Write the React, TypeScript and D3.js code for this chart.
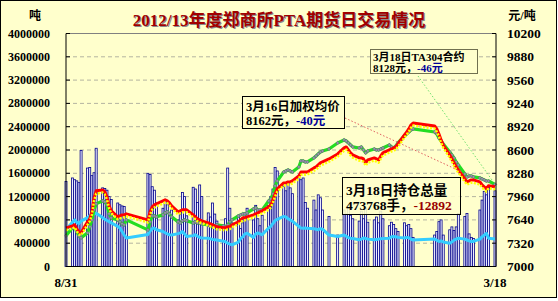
import React from 'react';
import * as d3 from 'd3';

const dates = [
  '2012-08-31',
  '2012-09-03','2012-09-04','2012-09-05','2012-09-06','2012-09-07',
  '2012-09-10','2012-09-11','2012-09-12','2012-09-13','2012-09-14',
  '2012-09-17','2012-09-18','2012-09-19','2012-09-20','2012-09-21',
  '2012-09-24','2012-09-25','2012-09-26','2012-09-27','2012-09-28',
  '2012-10-08','2012-10-09','2012-10-10','2012-10-11','2012-10-12',
  '2012-10-15','2012-10-16','2012-10-17','2012-10-18','2012-10-19',
  '2012-10-22','2012-10-23','2012-10-24','2012-10-25','2012-10-26',
  '2012-10-29','2012-10-30','2012-10-31','2012-11-01','2012-11-02',
  '2012-11-05','2012-11-06','2012-11-07','2012-11-08','2012-11-09',
  '2012-11-12','2012-11-13','2012-11-14','2012-11-15','2012-11-16',
  '2012-11-19','2012-11-20','2012-11-21','2012-11-22','2012-11-23',
  '2012-11-26','2012-11-27','2012-11-28','2012-11-29','2012-11-30',
  '2012-12-03','2012-12-04','2012-12-05','2012-12-06','2012-12-07',
  '2012-12-10','2012-12-11','2012-12-12','2012-12-13','2012-12-14',
  '2012-12-17','2012-12-18','2012-12-19','2012-12-20','2012-12-21',
  '2012-12-24','2012-12-25','2012-12-26','2012-12-27','2012-12-28',
  '2012-12-31','2013-01-04',
  '2013-01-07','2013-01-08','2013-01-09','2013-01-10','2013-01-11',
  '2013-01-14','2013-01-15','2013-01-16','2013-01-17','2013-01-18',
  '2013-01-21','2013-01-22','2013-01-23','2013-01-24','2013-01-25',
  '2013-01-28','2013-01-29','2013-01-30','2013-01-31','2013-02-01',
  '2013-02-04','2013-02-05','2013-02-06','2013-02-07','2013-02-08',
  '2013-02-18','2013-02-19','2013-02-20','2013-02-21','2013-02-22',
  '2013-02-25','2013-02-26','2013-02-27','2013-02-28','2013-03-01',
  '2013-03-04','2013-03-05','2013-03-06','2013-03-07','2013-03-08',
  '2013-03-11','2013-03-12','2013-03-13','2013-03-14','2013-03-15',
  '2013-03-18',
];

// daily volume (lots)
const volume = [
  1460000,
  1520000,1490000,1470000,1440000,1990000,
  1690000,1700000,1560000,1610000,2030000,
  1350000,1340000,1310000,1200000,1150000,
  1090000,1060000,1040000,1030000,780000,
  1600000,1580000,1370000,1310000,1090000,
  1000000,1150000,1060000,930000,970000,
  800000,890000,1270000,1200000,870000,
  1360000,1330000,1100000,1400000,1200000,
  920000,850000,1090000,900000,780000,
  700000,820000,1690000,1000000,750000,
  880000,650000,750000,920000,1000000,
  800000,1050000,820000,700000,880000,
  1050000,1200000,1330000,1700000,1640000,
  1380000,1300000,1420000,1350000,1250000,
  1540000,1490000,1520000,1100000,1000000,
  1140000,970000,1230000,1180000,970000,
  860000,540000,
  970000,900000,1000000,880000,820000,
  780000,950000,820000,1000000,760000,
  800000,850000,750000,950000,820000,
  700000,760000,720000,650000,600000,
  750000,700000,720000,650000,500000,
  540000,600000,770000,800000,540000,
  630000,680000,620000,680000,910000,
  860000,910000,560000,500000,480000,
  970000,1140000,1290000,1230000,1370000,
  1300000,
];

// open interest (lots)
const openInterest = [
  630000,
  760000,800000,760000,740000,780000,
  840000,870000,890000,900000,915000,
  840000,810000,790000,770000,750000,
  690000,660000,600000,540000,490000,
  550000,610000,650000,660000,630000,
  600000,580000,560000,545000,540000,
  565000,575000,600000,560000,515000,
  530000,545000,520000,500000,490000,
  485000,475000,465000,460000,455000,
  435000,425000,400000,385000,372000,
  420000,480000,510000,560000,570000,
  500000,560000,575000,560000,545000,
  660000,690000,740000,790000,810000,
  860000,850000,820000,800000,780000,
  690000,660000,655000,660000,655000,
  650000,640000,630000,650000,640000,
  540000,515000,
  540000,520000,495000,485000,480000,
  460000,470000,490000,480000,470000,
  460000,465000,470000,475000,480000,
  485000,510000,515000,510000,500000,
  490000,500000,495000,470000,455000,
  470000,450000,430000,440000,420000,
  400000,420000,455000,470000,485000,
  470000,455000,440000,430000,430000,
  470000,510000,540000,570000,486660,
  473768,
];

// TA304 contract price (yuan/ton)
const priceGreen = [
  7421,
  7531,7558,7476,7421,7394,
  7462,7545,7640,7778,7860,
  7901,7887,7846,7723,7668,
  7640,7613,7586,7572,7640,
  7503,7613,7695,7695,7682,
  7709,7736,7750,7723,7682,
  7613,7599,7627,7640,7627,
  7599,7613,7599,7599,7586,
  7572,7558,7545,7558,7572,
  7558,7545,7572,7613,7640,
  7695,7709,7723,7723,7736,
  7792,7805,7778,7778,7778,
  7901,7928,7997,8107,8175,
  8299,8312,8326,8312,8299,
  8367,8450,8450,8436,8436,
  8491,8518,8546,8573,8587,
  8614,8697,
  8738,8724,8697,8669,8642,
  8628,8642,8601,8560,8587,
  8614,8601,8601,8614,8628,
  8669,8642,8628,8655,8697,
  8793,8820,8847,8875,8889,
  8847,8820,8765,8724,8683,
  8573,8532,8491,8436,8395,
  8271,8230,8244,8244,8230,
  8217,8203,8189,8175,8174,
  8128,
];

// weighted average price (yuan/ton)
const priceRed = [
  7531,
  7558,7572,7517,7476,7462,
  7613,7654,7750,7942,8039,
  8052,8025,7956,7833,7764,
  7682,7695,7709,7709,7723,
  7640,7750,7819,7846,7860,
  7901,7915,7901,7874,7833,
  7750,7764,7778,7778,7778,
  7709,7682,7654,7640,7627,
  7599,7586,7572,7558,7545,
  7531,7531,7545,7545,7572,
  7613,7640,7668,7668,7682,
  7709,7723,7736,7750,7764,
  7819,7846,7915,7997,8066,
  8148,8148,8162,8162,8175,
  8244,8299,8299,8299,8299,
  8354,8367,8395,8422,8436,
  8477,8546,
  8628,8642,8601,8560,8532,
  8491,8491,8477,8422,8463,
  8491,8477,8463,8518,8560,
  8601,8614,8628,8642,8683,
  8806,8847,8889,8943,8971,
  8930,8889,8820,8738,8669,
  8532,8477,8422,8367,8326,
  8203,8162,8175,8189,8189,
  8162,8120,8093,8066,8110,
  8095,
];

// settlement price (yuan/ton)
const priceYellow = [
  7500,
  7520,7540,7485,7440,7430,
  7575,7620,7710,7900,8000,
  8015,7990,7920,7800,7730,
  7650,7660,7670,7675,7690,
  7605,7715,7780,7810,7825,
  7865,7880,7870,7840,7800,
  7715,7730,7745,7740,7745,
  7675,7650,7620,7605,7595,
  7565,7550,7540,7525,7510,
  7500,7495,7510,7515,7540,
  7580,7605,7630,7635,7645,
  7675,7690,7700,7715,7730,
  7780,7810,7880,7960,8030,
  8110,8115,8125,8130,8140,
  8205,8260,8265,8260,8265,
  8315,8330,8360,8385,8400,
  8440,8510,
  8590,8605,8565,8525,8495,
  8455,8450,8440,8385,8425,
  8455,8440,8425,8480,8525,
  8565,8580,8595,8605,8645,
  8770,8810,8850,8905,8935,
  8895,8850,8785,8700,8630,
  8495,8440,8385,8330,8290,
  8165,8125,8140,8150,8150,
  8125,8085,8055,8030,8075,
  8060,
];

const leftTicks = [0, 400000, 800000, 1200000, 1600000, 2000000, 2400000, 2800000, 3200000, 3600000, 4000000];
const rightTicks = [7000, 7320, 7640, 7960, 8280, 8600, 8920, 9240, 9560, 9880, 10200];
const xLabels = ['8/31', '3/18'];
const title = '2012/13年度郑商所PTA期货日交易情况';

const BG = '#FFFFCC';
const SERIF = '"Liberation Serif", "Noto Sans CJK SC", serif';

export default function App() {
  const parse = d3.timeParse('%Y-%m-%d');
  const ds = dates.map((s) => parse(s) as Date);
  const x = d3
    .scaleTime()
    .domain([parse('2012-08-31') as Date, parse('2013-03-18') as Date])
    .range([66, 495]);
  const yL = d3.scaleLinear().domain([0, 4000000]).range([266.5, 33.5]);
  const yR = d3.scaleLinear().domain([7000, 10200]).range([266.5, 33.5]);

  const lineL = d3
    .line<number>()
    .x((_, i) => x(ds[i]))
    .y((v) => yL(v));
  const lineR = d3
    .line<number>()
    .x((_, i) => x(ds[i]))
    .y((v) => yR(v));

  const x0 = 66;
  const x1 = 496;

  return (
    <svg
      width={558}
      height={301}
      style={{ position: 'absolute', left: 0, top: 0, display: 'block' }}
      fontFamily={SERIF}
    >
      <rect x={0.5} y={0.5} width={556} height={297} fill={BG} stroke="#000" strokeWidth={1} />

      {/* title */}
      <text x={279} y={26} textAnchor="middle" fontSize={17} fontWeight="bold" fill="#8a8a8a" dx={1} dy={1}>
        {title}
      </text>
      <text x={279} y={26} textAnchor="middle" fontSize={17} fontWeight="bold" fill="#A00000">
        {title}
      </text>
      <text x={35} y={20} textAnchor="middle" fontSize={12} fontWeight="bold" fill="#000">
        吨
      </text>
      <text x={522} y={20} textAnchor="middle" fontSize={12} fontWeight="bold" fill="#000">
        元/吨
      </text>

      {/* grid */}
      {leftTicks.slice(1).map((t) => (
        <line
          key={'g' + t}
          x1={x0}
          x2={x1}
          y1={yL(t)}
          y2={yL(t)}
          stroke="#B4B4A0"
          strokeWidth={1}
          strokeDasharray="4 3"
        />
      ))}
      <line x1={x0} x2={x1} y1={33.5} y2={33.5} stroke="#808080" strokeWidth={1} />

      {/* volume bars */}
      {volume.map((v, i) => (
        <rect
          key={'b' + i}
          x={x(ds[i]) - 1}
          y={yL(v)}
          width={2}
          height={yL(0) - yL(v)}
          fill="#EEEEFF"
          stroke="#00008B"
          strokeWidth={0.8}
        />
      ))}

      {/* open interest */}
      <path d={lineL(openInterest) || ''} fill="none" stroke="#33CCFF" strokeWidth={3} strokeLinejoin="round" />

      {/* green price */}
      <path d={lineR(priceGreen) || ''} fill="none" stroke="#22DD22" strokeWidth={3.2} strokeLinejoin="round" />
      {priceGreen.map((v, i) => {
        const cx = x(ds[i]);
        const cy = yR(v);
        const r = 1.7;
        return (
          <path
            key={'m' + i}
            d={`M${cx},${cy - r}L${cx + r},${cy}L${cx},${cy + r}L${cx - r},${cy}Z`}
            fill="#9A90B0"
            stroke="#606070"
            strokeWidth={0.5}
          />
        );
      })}

      {/* red price with yellow dotted */}
      <path d={lineR(priceRed) || ''} fill="none" stroke="#FF0000" strokeWidth={3} strokeLinejoin="round" />
      <path
        d={lineR(priceYellow) || ''}
        fill="none"
        stroke="#FFFF00"
        strokeWidth={2.5}
        strokeDasharray="2 1.5"
        strokeLinejoin="round"
      />

      {/* axes */}
      <line x1={x0} x2={x0} y1={33.5} y2={266.5} stroke="#000" strokeWidth={1} />
      <line x1={x1} x2={x1} y1={33.5} y2={266.5} stroke="#000" strokeWidth={1} />
      <line x1={x0} x2={x1} y1={266.5} y2={266.5} stroke="#000" strokeWidth={1} />
      {leftTicks.map((t) => (
        <g key={'lt' + t}>
          <line x1={x0} x2={x0 + 4} y1={yL(t)} y2={yL(t)} stroke="#000" />
          <text x={50} y={yL(t) + 4} textAnchor="end" fontSize={12} fontWeight="bold" fill="#000">
            {t}
          </text>
        </g>
      ))}
      {rightTicks.map((t) => (
        <g key={'rt' + t}>
          <line x1={x1 - 4} x2={x1} y1={yR(t)} y2={yR(t)} stroke="#000" />
          <text x={507} y={yR(t) + 4.5} textAnchor="start" fontSize={13.5} fontWeight="bold" fill="#000">
            {t}
          </text>
        </g>
      ))}
      <text x={x(ds[0])} y={287} textAnchor="middle" fontSize={13} fontWeight="bold" fill="#000">
        {xLabels[0]}
      </text>
      <text x={x(ds[ds.length - 1])} y={287} textAnchor="middle" fontSize={13} fontWeight="bold" fill="#000">
        {xLabels[1]}
      </text>

      {/* leader lines */}
      <line x1={345} y1={118} x2={462} y2={172} stroke="#E06060" strokeWidth={1} strokeDasharray="1.5 2" />
      <line x1={418} y1={76} x2={492} y2={180} stroke="#70E070" strokeWidth={1} strokeDasharray="1.5 2" />

      {/* annotation 1 */}
      <rect x={242.5} y={96.5} width={102} height={32} fill={BG} stroke="#000" strokeWidth={1} />
      <text x={246} y={111} fontSize={12.5} fontWeight="bold" fill="#000">
        3月16日加权均价
      </text>
      <text x={246} y={125} fontSize={12.5} fontWeight="bold" fill="#000">
        8162元，<tspan fill="#000099">-40元</tspan>
      </text>

      {/* annotation 2 */}
      <rect x={370.5} y={49.5} width={107} height={24} fill={BG} stroke="#707050" strokeWidth={1} />
      <text x={373} y={60.5} fontSize={11} fontWeight="bold" fill="#000">
        3月18日TA304合约
      </text>
      <text x={373} y={71.5} fontSize={11} fontWeight="bold" fill="#000">
        8128元，<tspan fill="#000099">-46元</tspan>
      </text>

      {/* annotation 3 */}
      <rect x={342.5} y={177.5} width={118} height={37} fill={BG} fillOpacity={0.88} stroke="#000" strokeWidth={1} />
      <text x={346} y={195} fontSize={13.5} fontWeight="bold" fill="#000">
        3月18日持仓总量
      </text>
      <text x={346} y={210} fontSize={13.5} fontWeight="bold" fill="#000">
        473768手，<tspan fill="#990000">-12892</tspan>
      </text>
    </svg>
  );
}
